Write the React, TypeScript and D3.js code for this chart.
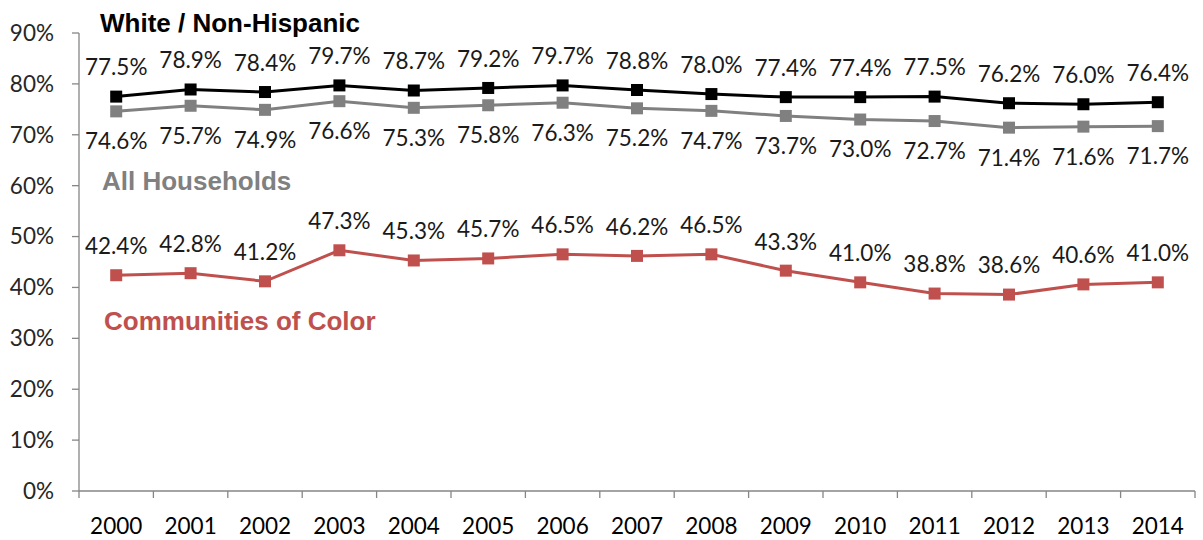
import React from "react";
import * as d3 from "d3";

const years = ["2000","2001","2002","2003","2004","2005","2006","2007","2008","2009","2010","2011","2012","2013","2014"];
const white = [77.5, 78.9, 78.4, 79.7, 78.7, 79.2, 79.7, 78.8, 78.0, 77.4, 77.4, 77.5, 76.2, 76.0, 76.4];
const allHouseholds = [74.6, 75.7, 74.9, 76.6, 75.3, 75.8, 76.3, 75.2, 74.7, 73.7, 73.0, 72.7, 71.4, 71.6, 71.7];
const color = [42.4, 42.8, 41.2, 47.3, 45.3, 45.7, 46.5, 46.2, 46.5, 43.3, 41.0, 38.8, 38.6, 40.6, 41.0];
const yTicks = [0, 10, 20, 30, 40, 50, 60, 70, 80, 90];

const W = 1203, H = 540;
const left = 79, right = 1195, top = 33, bottom = 491;
const numFont = "Lato, 'Open Sans', sans-serif";
const boldFont = "'Liberation Sans', Arial, sans-serif";

export default function App() {
  const x = d3.scaleBand<string>().domain(years).range([left, right]).padding(0);
  const y = d3.scaleLinear().domain([0, 90]).range([bottom, top]);
  const cx = (i: number) => (x(years[i]) as number) + x.bandwidth() / 2;
  const line = d3.line<number>().x((_, i) => cx(i)).y((d) => y(d));

  const series = [
    { data: allHouseholds, stroke: "#808080", labelDy: 30 },
    { data: white, stroke: "#000000", labelDy: -29 },
    { data: color, stroke: "#C0504D", labelDy: -29 },
  ];

  const boundaries = years.map((yr) => x(yr) as number).concat([right]);

  return (
    <div style={{ position: "absolute", left: 0, top: 0 }}>
      <svg width={W} height={H} style={{ display: "block", background: "#fff" }}>
        {/* axes */}
        <line x1={left} x2={left} y1={top} y2={bottom} stroke="#868686" strokeWidth={1.3} />
        <line x1={left} x2={right} y1={bottom} y2={bottom} stroke="#868686" strokeWidth={1.3} />
        {yTicks.map((t) => (
          <g key={t}>
            <line x1={left - 7} x2={left} y1={y(t)} y2={y(t)} stroke="#868686" strokeWidth={1.3} />
            <text x={54} y={y(t)} dy="0.35em" textAnchor="end" fontFamily={numFont} fontSize={22.5} fill="#262626">
              {t}%
            </text>
          </g>
        ))}
        {boundaries.map((b, i) => (
          <line key={i} x1={b} x2={b} y1={bottom} y2={bottom + 7} stroke="#868686" strokeWidth={1.3} />
        ))}
        {years.map((yr, i) => (
          <text key={yr} x={cx(i)} y={526} dy="0.35em" textAnchor="middle" fontFamily={numFont} fontSize={22.5} fill="#000">
            {yr}
          </text>
        ))}
        {/* series */}
        {series.map((s, si) => (
          <g key={si}>
            <path d={line(s.data) as string} fill="none" stroke={s.stroke} strokeWidth={3} />
            {s.data.map((v, i) => (
              <rect key={i} x={cx(i) - 6} y={y(v) - 6} width={12} height={12} fill={s.stroke} />
            ))}
            {s.data.map((v, i) => (
              <text key={"t" + i} x={cx(i)} y={y(v) + s.labelDy} dy="0.35em" textAnchor="middle"
                fontFamily={numFont} fontSize={22.5} fill="#1a1a1a">
                {v.toFixed(1)}%
              </text>
            ))}
          </g>
        ))}
        {/* series labels */}
        <text x={100} y={23} dy="0.35em" fontFamily={boldFont} fontWeight="bold" fontSize={26} fill="#000">White / Non-Hispanic</text>
        <text x={102} y={181} dy="0.35em" fontFamily={boldFont} fontWeight="bold" fontSize={26} fill="#808080">All Households</text>
        <text x={104} y={321} dy="0.35em" fontFamily={boldFont} fontWeight="bold" fontSize={26} fill="#C0504D">Communities of Color</text>
      </svg>
    </div>
  );
}
